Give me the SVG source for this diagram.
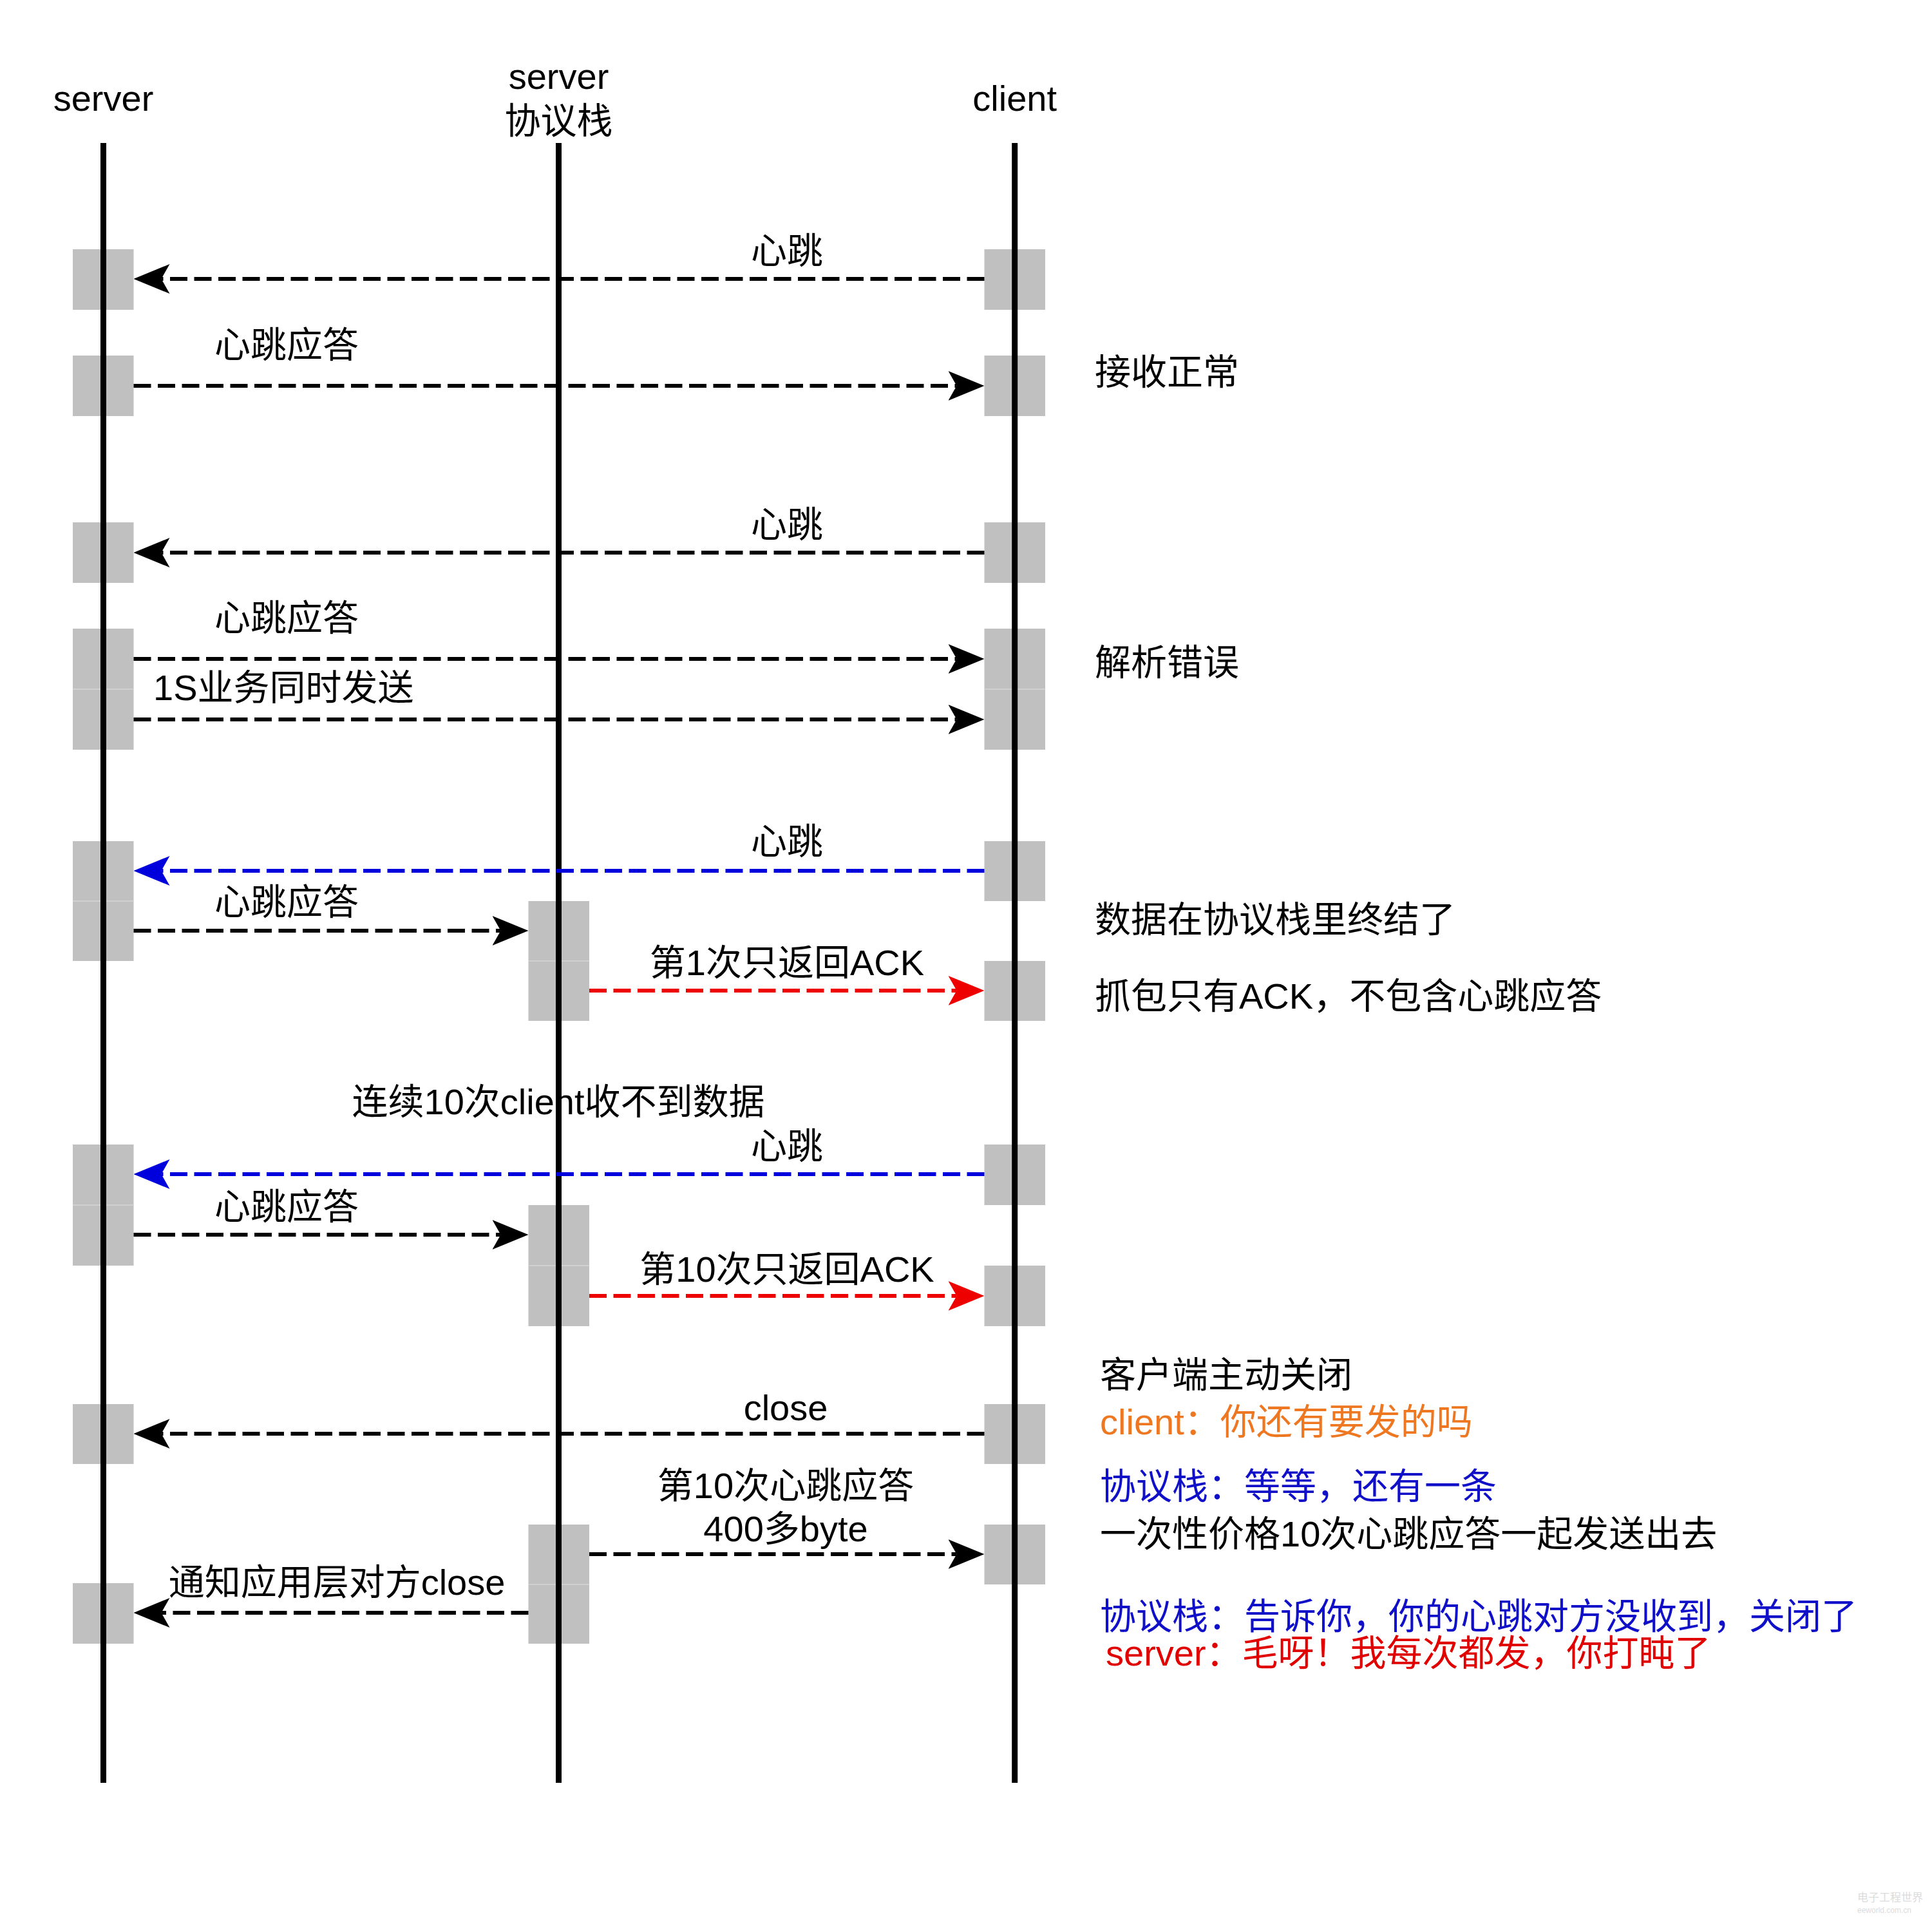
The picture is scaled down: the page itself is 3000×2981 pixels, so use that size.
<svg xmlns="http://www.w3.org/2000/svg" width="3000" height="2981" viewBox="0 0 3000 2981">
<style>
  .t{font-family:"Liberation Sans","Noto Sans CJK SC",sans-serif;font-size:56px;fill:#000}
  .m{text-anchor:middle}
  .box{fill:#c0c0c0}
  .seam{stroke:#d6d6d6;stroke-width:1.5}
  .life{stroke:#000;stroke-width:9;fill:none}
  .msg{fill:none;stroke-width:6;stroke-dasharray:27 10.5}
  .k{stroke:#000}
  .b{stroke:#0000dd}
  .r{stroke:#ee0000}
  .blue{fill:#1010c8}
  .red{fill:#e00000}
  .orange{fill:#ee7722}
</style>
<defs>
  <marker id="ak" viewBox="0 0 56 46" refX="13" refY="23" markerWidth="56" markerHeight="46" markerUnits="userSpaceOnUse" orient="auto"><path d="M0,0 L56,23 L0,46 L13,23 Z" fill="#000"/></marker>
  <marker id="ab" viewBox="0 0 56 46" refX="13" refY="23" markerWidth="56" markerHeight="46" markerUnits="userSpaceOnUse" orient="auto"><path d="M0,0 L56,23 L0,46 L13,23 Z" fill="#0000dd"/></marker>
  <marker id="ar" viewBox="0 0 56 46" refX="13" refY="23" markerWidth="56" markerHeight="46" markerUnits="userSpaceOnUse" orient="auto"><path d="M0,0 L56,23 L0,46 L13,23 Z" fill="#ee0000"/></marker>
</defs>
<rect width="3000" height="2981" fill="#fff"/>

<!-- activation boxes -->
<g id="activations">
  <g id="server-acts">
    <rect class="box" x="113" y="387" width="94.5" height="94"/>
    <rect class="box" x="113" y="552" width="94.5" height="94"/>
    <rect class="box" x="113" y="811" width="94.5" height="94"/>
    <rect class="box" x="113" y="976" width="94.5" height="188"/>
    <line class="seam" x1="113" y1="1070" x2="207.5" y2="1070"/>
    <rect class="box" x="113" y="1306" width="94.5" height="186"/>
    <line class="seam" x1="113" y1="1399" x2="207.5" y2="1399"/>
    <rect class="box" x="113" y="1777" width="94.5" height="188"/>
    <line class="seam" x1="113" y1="1871" x2="207.5" y2="1871"/>
    <rect class="box" x="113" y="2180" width="94.5" height="93"/>
    <rect class="box" x="113" y="2458" width="94.5" height="94"/>
  </g>
  <g id="stack-acts">
    <rect class="box" x="820.5" y="1399" width="94.5" height="186"/>
    <line class="seam" x1="820.5" y1="1492" x2="915" y2="1492"/>
    <rect class="box" x="820.5" y="1871" width="94.5" height="188"/>
    <line class="seam" x1="820.5" y1="1965" x2="915" y2="1965"/>
    <rect class="box" x="820.5" y="2367" width="94.5" height="185"/>
    <line class="seam" x1="820.5" y1="2460" x2="915" y2="2460"/>
  </g>
  <g id="client-acts">
    <rect class="box" x="1528.5" y="387" width="94.5" height="94"/>
    <rect class="box" x="1528.5" y="552" width="94.5" height="94"/>
    <rect class="box" x="1528.5" y="811" width="94.5" height="94"/>
    <rect class="box" x="1528.5" y="976" width="94.5" height="188"/>
    <line class="seam" x1="1528.5" y1="1070" x2="1623" y2="1070"/>
    <rect class="box" x="1528.5" y="1306" width="94.5" height="93"/>
    <rect class="box" x="1528.5" y="1492" width="94.5" height="93"/>
    <rect class="box" x="1528.5" y="1777" width="94.5" height="94"/>
    <rect class="box" x="1528.5" y="1965" width="94.5" height="94"/>
    <rect class="box" x="1528.5" y="2180" width="94.5" height="93"/>
    <rect class="box" x="1528.5" y="2367" width="94.5" height="93"/>
  </g>
</g>

<!-- label spanning the stack lifeline (drawn under it) -->
<text class="t m" x="867" y="1730">连续10次client收不到数据</text>

<!-- lifelines / participants -->
<g id="server">
  <text class="t m" x="160.5" y="172">server</text>
  <line class="life" x1="160.5" y1="222" x2="160.5" y2="2768"/>
</g>
<g id="server-stack">
  <text class="t m" x="867.5" y="138">server</text>
  <text class="t m" x="867.5" y="207">协议栈</text>
  <line class="life" x1="867.5" y1="222" x2="867.5" y2="2768"/>
</g>
<g id="client">
  <text class="t m" x="1575.7" y="172">client</text>
  <line class="life" x1="1575.7" y1="222" x2="1575.7" y2="2768"/>
</g>

<!-- connectors -->
<g id="connectors">
  <line class="msg k" x1="1528.5" y1="433" x2="250.5" y2="433" marker-end="url(#ak)"/>
  <line class="msg k" x1="207.5" y1="599" x2="1485.5" y2="599" marker-end="url(#ak)"/>
  <line class="msg k" x1="1528.5" y1="858" x2="250.5" y2="858" marker-end="url(#ak)"/>
  <line class="msg k" x1="207.5" y1="1023" x2="1485.5" y2="1023" marker-end="url(#ak)"/>
  <line class="msg k" x1="207.5" y1="1117" x2="1485.5" y2="1117" marker-end="url(#ak)"/>
  <line class="msg b" x1="1528.5" y1="1352" x2="250.5" y2="1352" marker-end="url(#ab)"/>
  <line class="msg k" x1="207.5" y1="1445" x2="777.5" y2="1445" marker-end="url(#ak)"/>
  <line class="msg r" x1="915" y1="1538" x2="1485.5" y2="1538" marker-end="url(#ar)"/>
  <line class="msg b" x1="1528.5" y1="1823" x2="250.5" y2="1823" marker-end="url(#ab)"/>
  <line class="msg k" x1="207.5" y1="1917" x2="777.5" y2="1917" marker-end="url(#ak)"/>
  <line class="msg r" x1="915" y1="2012" x2="1485.5" y2="2012" marker-end="url(#ar)"/>
  <line class="msg k" x1="1528.5" y1="2226" x2="250.5" y2="2226" marker-end="url(#ak)"/>
  <line class="msg k" x1="915" y1="2413" x2="1485.5" y2="2413" marker-end="url(#ak)"/>
  <line class="msg k" x1="820.5" y1="2504" x2="250.5" y2="2504" marker-end="url(#ak)"/>
</g>

<!-- message labels -->
<g id="message-labels">
  <text class="t m" x="1222" y="409">心跳</text>
  <text class="t" x="333" y="555">心跳应答</text>
  <text class="t m" x="1222" y="834">心跳</text>
  <text class="t" x="333" y="979">心跳应答</text>
  <text class="t" x="238" y="1087">1S业务同时发送</text>
  <text class="t m" x="1222" y="1326">心跳</text>
  <text class="t" x="333" y="1420">心跳应答</text>
  <text class="t m" x="1222" y="1514">第1次只返回ACK</text>
  <text class="t m" x="1222" y="1799">心跳</text>
  <text class="t" x="333" y="1893">心跳应答</text>
  <text class="t m" x="1222" y="1990">第10次只返回ACK</text>
  <text class="t m" x="1220" y="2205">close</text>
  <text class="t m" x="1220" y="2326">第10次心跳应答</text>
  <text class="t m" x="1220" y="2393">400多byte</text>
  <text class="t m" x="523" y="2476">通知应用层对方close</text>
</g>

<!-- notes -->
<g id="notes">
  <text class="t" x="1700" y="597">接收正常</text>
  <text class="t" x="1700" y="1048">解析错误</text>
  <text class="t" x="1700" y="1447">数据在协议栈里终结了</text>
  <text class="t" x="1700" y="1566">抓包只有ACK，不包含心跳应答</text>
  <text class="t" x="1708" y="2154">客户端主动关闭</text>
  <text class="t orange" x="1708" y="2227">client：你还有要发的吗</text>
  <text class="t blue" x="1708" y="2327">协议栈：等等，还有一条</text>
  <text class="t" x="1708" y="2401">一次性价格10次心跳应答一起发送出去</text>
  <text class="t blue" x="1708" y="2529">协议栈：告诉你，你的心跳对方没收到，关闭了</text>
  <text class="t red" x="1717" y="2586">server：毛呀！我每次都发，你打盹了</text>
</g>

<!-- watermark -->
<g id="watermark" opacity="0.35">
  <text x="2884" y="2952" style="font-family:'Noto Sans CJK SC',sans-serif;font-size:17px;fill:#9a9a9a">电子工程世界</text>
  <text x="2884" y="2970" style="font-family:'Liberation Sans',sans-serif;font-size:12px;fill:#9a9a9a">eeworld.com.cn</text>
</g>
</svg>
